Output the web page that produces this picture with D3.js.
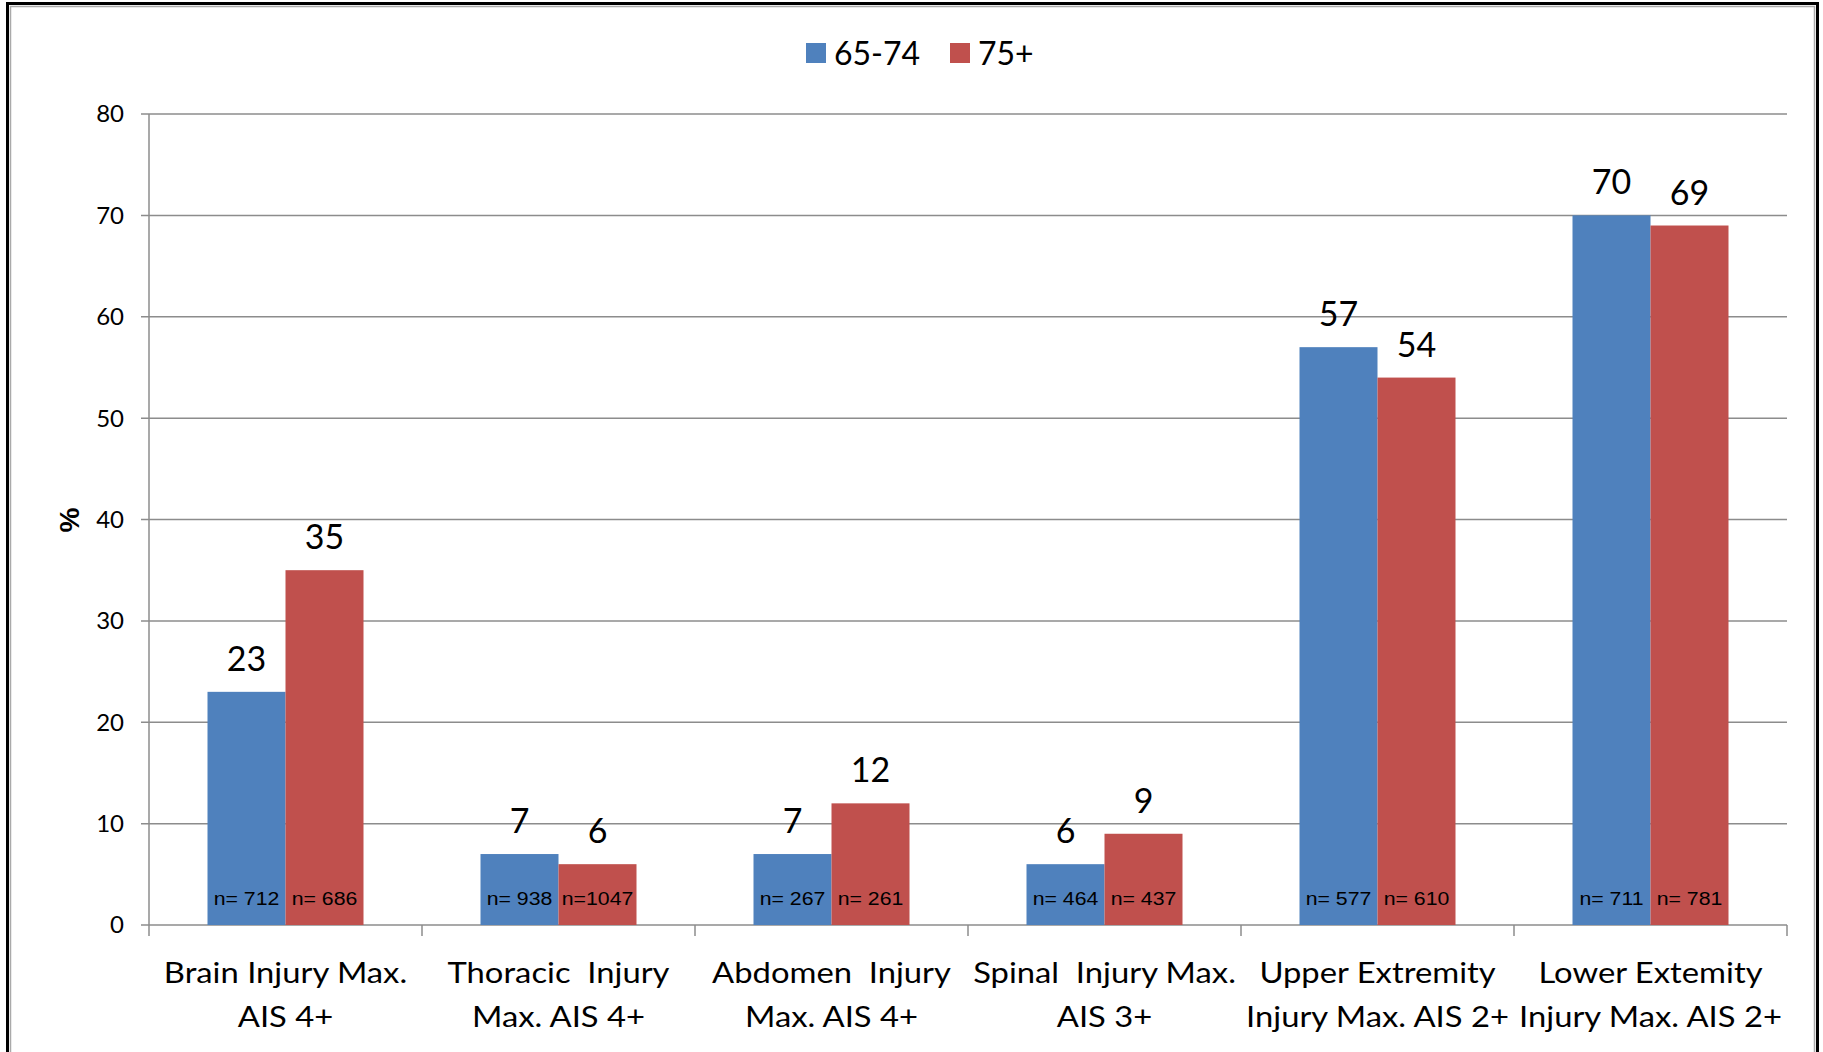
<!DOCTYPE html>
<html><head><meta charset="utf-8">
<script src="https://cdn.jsdelivr.net/npm/d3@7"></script>
<style>
body{margin:0;background:#fff;}
text{white-space:pre;}
</style></head>
<body><svg id="c" width="1823" height="1052"></svg>
<script>
const categories = [
  ["Brain Injury Max.", "AIS 4+"],
  ["Thoracic  Injury", "Max. AIS 4+"],
  ["Abdomen  Injury", "Max. AIS 4+"],
  ["Spinal  Injury Max.", "AIS 3+"],
  ["Upper Extremity", "Injury Max. AIS 2+"],
  ["Lower Extemity", "Injury Max. AIS 2+"]
];
const seriesNames = ["65-74", "75+"];
const values6574 = [23, 7, 7, 6, 57, 70];
const values75 = [35, 6, 12, 9, 54, 69];
const nLabels6574 = ["n= 712", "n= 938", "n= 267", "n= 464", "n= 577", "n= 711"];
const nLabels75 = ["n= 686", "n=1047", "n= 261", "n= 437", "n= 610", "n= 781"];
const yTicks = [0, 10, 20, 30, 40, 50, 60, 70, 80];
const colors = ["#4F81BD", "#C0504D"];

(function () {
const svg = d3.select("#c");
const F = "Lato, 'Open Sans', sans-serif";
const pLeft = 149, pRight = 1787, pTop = 114, pBottom = 925;

// frame
svg.append("rect").attr("x", 7.5).attr("y", 3.5).attr("width", 1810).attr("height", 1100)
  .attr("fill", "none").attr("stroke", "#000").attr("stroke-width", 3);
svg.append("rect").attr("x", 10.5).attr("y", 6.5).attr("width", 1804).attr("height", 1100)
  .attr("fill", "none").attr("stroke", "#aaa").attr("stroke-width", 1.5);

const idx = categories.map((d, i) => i);
const x0 = d3.scaleBand().domain(idx).range([pLeft, pRight]).padding(0);
const x1 = d3.scaleBand().domain([0, 1]).range([0, x0.bandwidth()]).paddingInner(0).paddingOuter(0.75);
const y = d3.scaleLinear().domain([0, 80]).range([pBottom, pTop]);

// gridlines
svg.append("g").selectAll("line").data(yTicks).join("line")
  .attr("x1", pLeft - 8).attr("x2", pRight).attr("y1", d => y(d)).attr("y2", d => y(d))
  .attr("stroke", "#8c8c8c").attr("stroke-width", 1.5);
// y axis line
svg.append("line").attr("x1", pLeft).attr("x2", pLeft).attr("y1", pTop).attr("y2", pBottom)
  .attr("stroke", "#8c8c8c").attr("stroke-width", 1.5);
// x ticks at boundaries
const bounds = idx.map(i => x0(i)).concat([pRight]);
svg.append("g").selectAll("line").data(bounds).join("line")
  .attr("x1", d => d).attr("x2", d => d).attr("y1", pBottom).attr("y2", pBottom + 11)
  .attr("stroke", "#8c8c8c").attr("stroke-width", 1.5);
// y tick labels
svg.append("g").selectAll("text").data(yTicks).join("text")
  .attr("x", 124).attr("y", d => y(d)).attr("dy", "0.35em").attr("text-anchor", "end")
  .attr("font-family", F).attr("font-size", 24).text(d => d);
// y title
svg.append("text").attr("transform", "translate(79,520) rotate(-90)").attr("text-anchor", "middle")
  .attr("font-family", "'Liberation Sans', Arial, sans-serif").attr("font-weight", "bold").attr("font-size", 28).text("%");

// bars
const data = [values6574, values75];
const nl = [nLabels6574, nLabels75];
data.forEach((vals, s) => {
  const g = svg.append("g");
  g.selectAll("rect").data(vals).join("rect")
    .attr("x", (d, i) => x0(i) + x1(s)).attr("width", x1.bandwidth())
    .attr("y", d => y(d)).attr("height", d => y(0) - y(d))
    .attr("fill", colors[s]);
  g.selectAll("text.v").data(vals).join("text").attr("class", "v")
    .attr("x", (d, i) => x0(i) + x1(s) + x1.bandwidth() / 2).attr("y", d => y(d) - 21)
    .attr("text-anchor", "middle").attr("font-family", F).attr("font-size", 34).text(d => d);
  g.selectAll("text.n").data(nl[s]).join("text").attr("class", "n")
    .attr("transform", (d, i) => `translate(${x0(i) + x1(s) + x1.bandwidth() / 2},${y(0) - 20}) scale(1.12,1)`)
    .attr("text-anchor", "middle").attr("font-family", "'Liberation Sans', Arial, sans-serif")
    .attr("font-size", 19).text(d => d);
});

// category labels
const cg = svg.append("g");
categories.forEach((lines, i) => {
  lines.forEach((t, j) => {
    cg.append("text")
      .attr("transform", `translate(${x0(i) + x0.bandwidth() / 2},${983 + j * 44}) scale(1.13,1)`)
      .attr("text-anchor", "middle").attr("font-family", F).attr("font-size", 29).text(t);
  });
});

// legend
const lg = svg.append("g");
const legX = [806, 950];
seriesNames.forEach((n, i) => {
  lg.append("rect").attr("x", legX[i]).attr("y", 43).attr("width", 20).attr("height", 20).attr("fill", colors[i]);
  lg.append("text").attr("x", legX[i] + 28).attr("y", 53).attr("dy", "0.36em")
    .attr("font-family", F).attr("font-size", 32).text(n);
});
})();
</script></body></html>
